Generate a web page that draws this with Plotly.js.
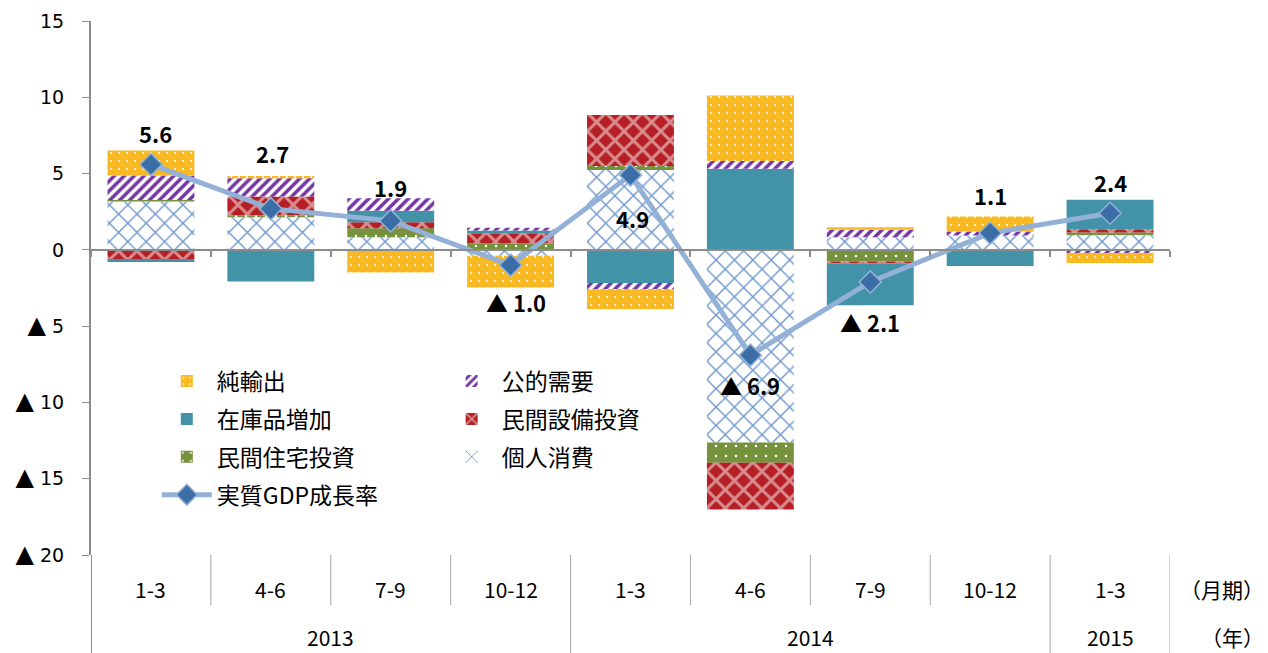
<!DOCTYPE html>
<html>
<head>
<meta charset="utf-8">
<script src="https://cdn.plot.ly/plotly-3.0.1.min.js"></script>
<style>html,body{margin:0;padding:0;background:#fff;}#chart{width:1268px;height:653px;}</style>
</head>
<body>
<div id="chart"></div>
<script>
// ---- data ----
const quarters = ['1-3','4-6','7-9','10-12','1-3','4-6','7-9','10-12','1-3'];
const years    = ['2013','2013','2013','2013','2014','2014','2014','2014','2015'];
const consumption   = [3.17, 2.14, 0.83, -0.39, 5.24, -12.62, 0.83, 0.94, 0.96];   // 個人消費
const housing       = [0.10, 0.13, 0.59, 0.43, 0.26, -1.34, -0.77, 0.00, 0.17];    // 民間住宅投資
const capex         = [-0.60, 1.22, 0.39, 0.66, 3.34, -3.06, -0.11, 0.00, 0.22];   // 民間設備投資
const inventory     = [-0.20, -2.08, 0.76, 0.18, -2.18, 5.31, -2.75, -1.05, 1.93]; // 在庫品増加
const publicDemand  = [1.60, 1.20, 0.81, 0.18, -0.39, 0.52, 0.48, 0.26, -0.20];    // 公的需要
const netExports    = [1.65, 0.15, -1.49, -2.08, -1.31, 4.28, 0.17, 0.98, -0.66];  // 純輸出
const gdp           = [5.6, 2.7, 1.9, -1.0, 4.9, -6.9, -2.1, 1.1, 2.4];            // 実質GDP成長率
const yTickVals = [15, 10, 5, 0, -5, -10, -15, -20];
const yTickNums = ['15', '10', '5', '0', '5', '10', '15', '20'];

const TRI = '<span style="font-size:24px">▲</span>';
const yTickText = yTickVals.map((v, i) => (v < 0 ? TRI + ' ' : '') + yTickNums[i]);

const cats = quarters.map((q, i) => years[i] + ' ' + q);
const JP = '"Noto Sans CJK JP", "Noto Sans", sans-serif';

function barTrace(name, y, color, pattern, legend, rank) {
  const t = {
    type: 'bar', name: name, x: cats, y: y,
    marker: {color: color, line: {width: 0}},
    legend: legend, legendrank: rank, legendgroup: name,
    hoverinfo: 'skip'
  };
  if (pattern) t.marker.pattern = Object.assign({fillmode: 'overlay', fgopacity: 1}, pattern);
  return t;
}

const traces = [
  barTrace('個人消費', consumption, '#FFFFFF',
    {shape: 'x', fgcolor: '#6D96CB', size: 13, solidity: 0.2}, 'legend2', 3),
  barTrace('民間住宅投資', housing, '#76923C',
    {shape: '.', fgcolor: '#FFFFFF', size: 10, solidity: 0.05}, 'legend', 3),
  barTrace('民間設備投資', capex, '#B51F25',
    {shape: 'x', fgcolor: '#D98C8E', size: 13, solidity: 0.4}, 'legend2', 2),
  barTrace('在庫品増加', inventory, '#4393A8', null, 'legend', 2),
  barTrace('公的需要', publicDemand, '#FFFFFF',
    {shape: '/', fgcolor: '#7434A2', size: 7, solidity: 0.5}, 'legend2', 1),
  barTrace('純輸出', netExports, '#F8B922',
    {shape: '.', fgcolor: '#FFFFFF', size: 8, solidity: 0.05}, 'legend', 1),
  {
    type: 'scatter', mode: 'lines+markers', name: '実質GDP成長率', x: cats, y: gdp,
    line: {color: '#93B1D6', width: 5},
    marker: {symbol: 'diamond', size: 17, color: '#3B6EA6', line: {color: '#93B1D6', width: 1.5}},
    legend: 'legend', legendrank: 4, legendgroup: 'gdp', hoverinfo: 'skip'
  }
];

// label offsets (px) for GDP values
const labelShiftY = [31, 56, 34, -37, -43, -30, -40, 38, 31];
const labelShiftX = [5, 2, 0, 5, 2, 0, 0, 0, 0];

const annotations = [];
gdp.forEach((v, i) => {
  annotations.push({
    x: cats[i], y: v, xref: 'x', yref: 'y', showarrow: false,
    xanchor: 'center', yanchor: 'middle',
    text: (v < 0 ? '▲ ' : '') + Math.abs(v).toFixed(1),
    xshift: labelShiftX[i], yshift: labelShiftY[i],
    font: {family: JP, size: 22, color: '#000', weight: 'bold'}
  });
});
quarters.forEach((q, i) => {
  annotations.push({
    x: cats[i], y: -0.064, xref: 'x', yref: 'paper', showarrow: false, text: q,
    xanchor: 'center', yanchor: 'middle',
    font: {family: JP, size: 21, color: '#000'}
  });
});
const uniqYears = [...new Set(years)];
uniqYears.forEach(yr => {
  const idx = years.map((y, i) => y === yr ? i : -1).filter(i => i >= 0);
  const mid = (idx[0] + idx[idx.length - 1]) / 2;
  annotations.push({
    x: mid, y: -0.154, xref: 'x', yref: 'paper', showarrow: false, text: yr,
    xanchor: 'center', yanchor: 'middle',
    font: {family: JP, size: 21, color: '#000'}
  });
});
annotations.push({x: 1.089, y: -0.064, xref: 'paper', yref: 'paper', showarrow: false,
  xanchor: 'right', yanchor: 'middle',
  text: '（月期）', font: {family: JP, size: 21, color: '#000'}});
annotations.push({x: 1.089, y: -0.154, xref: 'paper', yref: 'paper', showarrow: false,
  xanchor: 'right', yanchor: 'middle',
  text: '（年）', font: {family: JP, size: 21, color: '#000'}});

// divider lines under the plot
const shapes = [];
const n = cats.length;
const lineCol = '#8C8C8C';
shapes.push({type: 'line', xref: 'x', yref: 'paper', x0: -0.5, x1: -0.5, y0: 0, y1: -0.1835,
  line: {color: lineCol, width: 2}});
for (let i = 0; i < n; i++) {
  const b = i + 0.5;
  const groupEnd = (i === n - 1) || years[i] !== years[i + 1];
  shapes.push({type: 'line', xref: 'x', yref: 'paper', x0: b, x1: b, y0: 0,
    y1: groupEnd ? -0.1835 : -0.094, line: {color: '#A6A6A6', width: 1}});
}

const legendBase = {
  xanchor: 'left', yanchor: 'top', y: 0.366,
  orientation: 'v', traceorder: 'grouped', tracegroupgap: 5,
  bgcolor: 'rgba(0,0,0,0)', borderwidth: 0, itemwidth: 50,
  font: {family: JP, size: 23, color: '#000'}
};

const layout = {
  width: 1268, height: 653,
  margin: {l: 91, r: 98, t: 21, b: 98},
  paper_bgcolor: '#FFFFFF', plot_bgcolor: 'rgba(0,0,0,0)',
  barmode: 'relative', bargap: 0.275,
  showlegend: true,
  font: {family: JP, color: '#000'},
  xaxis: {
    type: 'category', range: [-0.5, n - 0.5], fixedrange: true,
    anchor: 'free', position: 20 / 35,
    showline: true, linecolor: lineCol, linewidth: 2,
    ticks: 'outside', tickson: 'boundaries', ticklen: 6, tickcolor: lineCol, tickwidth: 2,
    showticklabels: false, showgrid: false, zeroline: false,
    layer: 'above traces'
  },
  yaxis: {
    range: [-20, 15], fixedrange: true,
    tickvals: yTickVals, ticktext: yTickText,
    ticks: 'outside', ticklen: 7, tickcolor: lineCol, tickwidth: 1,
    showline: true, linecolor: lineCol, linewidth: 2,
    showgrid: false, zeroline: false,
    ticklabelstandoff: 14,
    tickfont: {family: 'DejaVu Sans, sans-serif', size: 19, color: '#000'}
  },
  legend: Object.assign({}, legendBase, {x: 0.061}),
  legend2: Object.assign({}, legendBase, {x: 0.325}),
  annotations: annotations,
  shapes: shapes
};

Plotly.newPlot('chart', traces, layout, {staticPlot: true, displayModeBar: false});
</script>
</body>
</html>
